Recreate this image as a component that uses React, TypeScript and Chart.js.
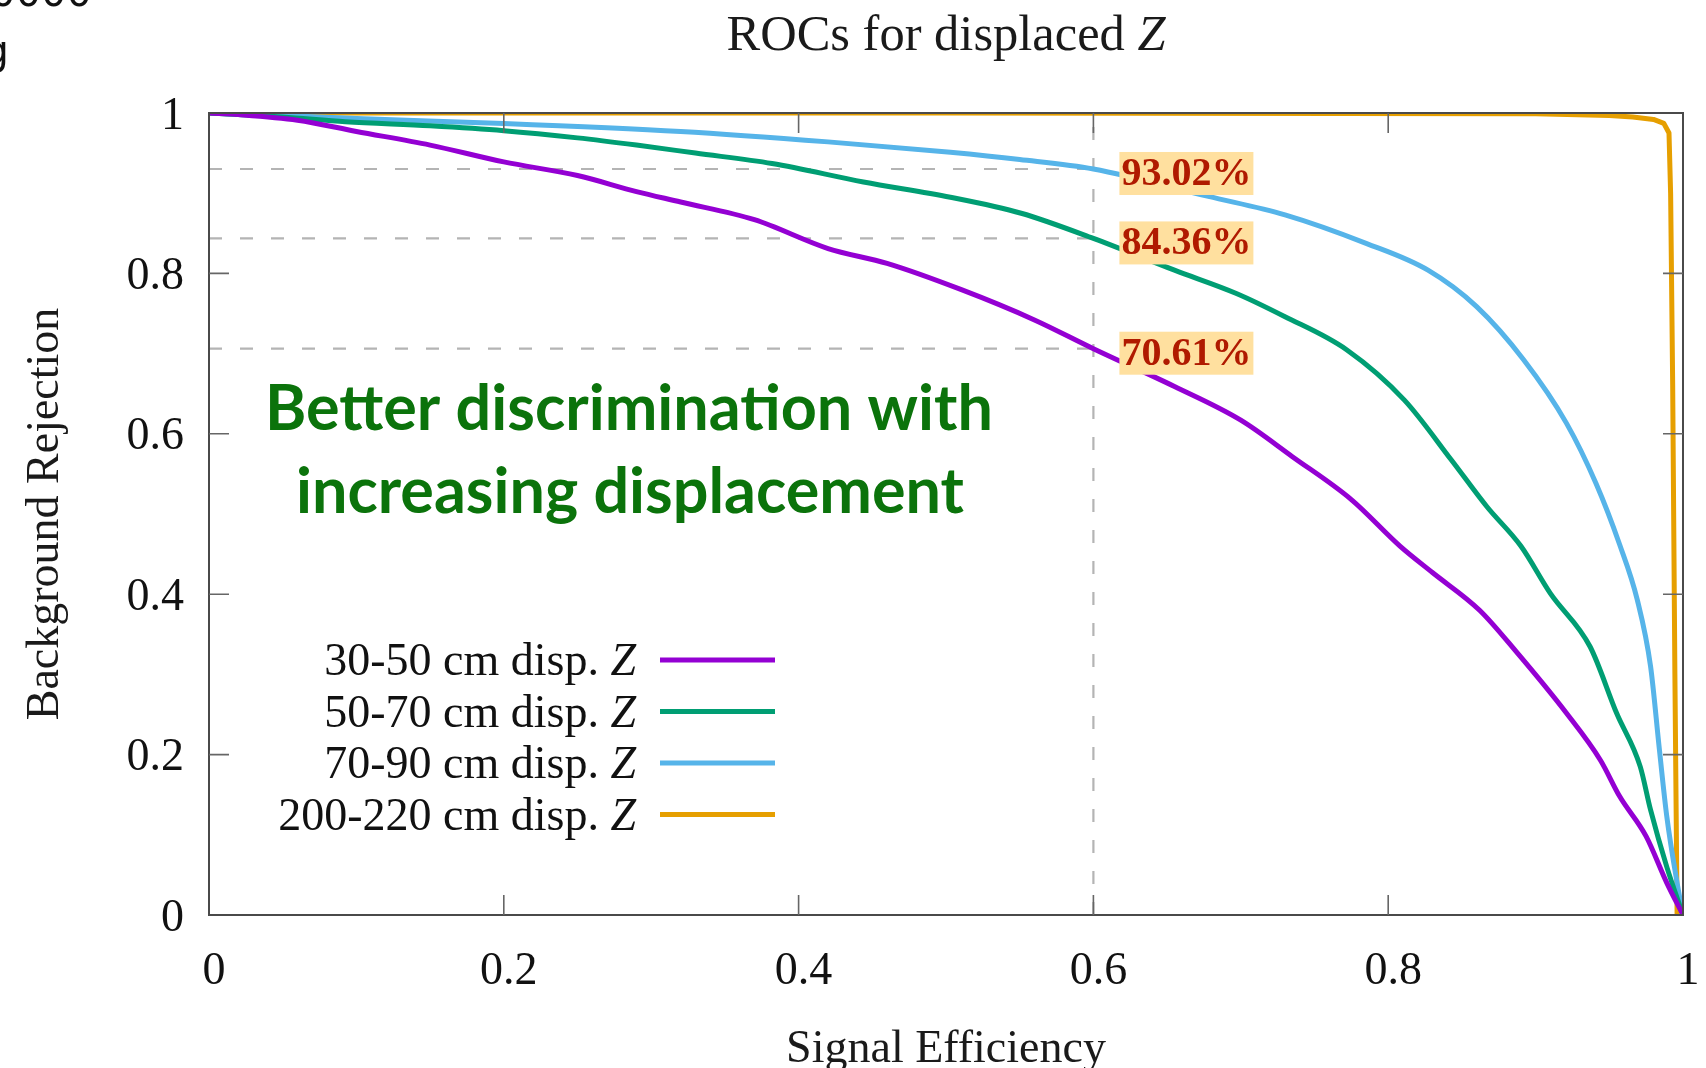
import React, { useEffect, useRef } from 'react';
import { Chart, registerables } from 'chart.js';

Chart.register(...registerables);

// ---------------- data ----------------
const seriesLabels = ['30-50 cm disp. ', '50-70 cm disp. ', '70-90 cm disp. ', '200-220 cm disp. '];
const seriesLabelItalic = 'Z';
const seriesColors = ['#9400d3', '#009e73', '#56b4e9', '#e69f00'];

const purpleX = [0, 0.02, 0.06, 0.10, 0.15, 0.20, 0.25, 0.29, 0.32, 0.37, 0.42, 0.46, 0.51, 0.56, 0.60, 0.655, 0.70, 0.735, 0.775, 0.808, 0.83, 0.862, 0.887, 0.921, 0.944, 0.957, 0.975, 0.989, 1.0];
const purpleY = [1, 0.998, 0.991, 0.977, 0.960, 0.939, 0.922, 0.902, 0.889, 0.867, 0.831, 0.8125, 0.78, 0.742, 0.7061, 0.659, 0.617, 0.5715, 0.518, 0.46, 0.427, 0.38, 0.328, 0.2515, 0.193, 0.148, 0.098, 0.04, 0];

const greenX = [0, 0.05, 0.0925, 0.15, 0.20, 0.25, 0.29, 0.33, 0.382, 0.444, 0.503, 0.551, 0.60, 0.655, 0.697, 0.73, 0.772, 0.811, 0.843, 0.867, 0.89, 0.91, 0.937, 0.955, 0.971, 0.978, 0.989, 1.0];
const greenY = [1, 0.995, 0.989, 0.984, 0.978, 0.969, 0.960, 0.950, 0.937, 0.914, 0.895, 0.875, 0.8436, 0.804, 0.775, 0.746, 0.7045, 0.642, 0.567, 0.509, 0.46, 0.401, 0.3345, 0.2515, 0.185, 0.131, 0.06, 0];

const blueX = [0, 0.05, 0.10, 0.20, 0.32, 0.42, 0.503, 0.55, 0.60, 0.678, 0.73, 0.785, 0.827, 0.86, 0.892, 0.921, 0.941, 0.957, 0.969, 0.978, 0.984, 0.989, 0.996, 1.0];
const blueY = [1, 0.997, 0.993, 0.987, 0.977, 0.964, 0.951, 0.942, 0.9302, 0.896, 0.873, 0.8375, 0.804, 0.7585, 0.692, 0.613, 0.538, 0.462, 0.393, 0.31, 0.206, 0.123, 0.04, 0];

const orangeX = [0, 0.5, 0.9, 0.95, 0.966, 0.98, 0.987, 0.9905, 0.9916, 0.993, 0.9945, 0.996];
const orangeY = [1, 1, 0.999, 0.997, 0.995, 0.992, 0.987, 0.975, 0.90, 0.66, 0.30, 0];

const seriesX = [purpleX, greenX, blueX, orangeX];
const seriesY = [purpleY, greenY, blueY, orangeY];

const xTickValues = [0, 0.2, 0.4, 0.6, 0.8, 1];
const xTickLabels = ['0', '0.2', '0.4', '0.6', '0.8', '1'];
const yTickValues = [0, 0.2, 0.4, 0.6, 0.8, 1];
const yTickLabels = ['0', '0.2', '0.4', '0.6', '0.8', '1'];

const workingPointX = 0.6;
const workingPointValues = [0.7061, 0.8436, 0.9302];
const workingPointLabels = ['70.61%', '84.36%', '93.02%'];

const titleMain = 'ROCs for displaced ';
const titleItalic = 'Z';
const xTitle = 'Signal Efficiency';
const yTitle = 'Background Rejection';
const noteLines = ['Better discrimination with', 'increasing displacement'];

const SERIF = '"Liberation Serif", "Times New Roman", serif';

export default function App() {
  const ref = useRef<HTMLCanvasElement>(null);

  useEffect(() => {
    const canvas = ref.current!;

    const decor = {
      id: 'decor',
      beforeDatasetsDraw(chart: any) {
        const { ctx, chartArea: a, scales } = chart;
        const xs = scales.x, ys = scales.y;
        ctx.save();
        ctx.strokeStyle = '#b4b4b4';
        ctx.lineWidth = 2.2;
        ctx.setLineDash([13, 18]);
        const vx = xs.getPixelForValue(workingPointX);
        ctx.beginPath();
        ctx.moveTo(vx, a.bottom);
        ctx.lineTo(vx, a.top);
        ctx.stroke();
        workingPointValues.forEach((v) => {
          const py = ys.getPixelForValue(v);
          ctx.beginPath();
          ctx.moveTo(a.left, py);
          ctx.lineTo(vx, py);
          ctx.stroke();
        });
        ctx.restore();
      },
      afterDatasetsDraw(chart: any) {
        const { ctx, chartArea: a, scales } = chart;
        const xs = scales.x, ys = scales.y;
        ctx.save();

        // frame
        ctx.strokeStyle = '#4a4a4a';
        ctx.lineWidth = 2;
        ctx.strokeRect(a.left, a.top, a.right - a.left, a.bottom - a.top);

        // inward ticks (mirrored)
        ctx.strokeStyle = '#666';
        ctx.lineWidth = 1.6;
        const tl = 20;
        xTickValues.forEach((v) => {
          if (v <= 0 || v >= 1) return;
          const px = xs.getPixelForValue(v);
          ctx.beginPath();
          ctx.moveTo(px, a.bottom); ctx.lineTo(px, a.bottom - tl);
          ctx.moveTo(px, a.top); ctx.lineTo(px, a.top + tl);
          ctx.stroke();
        });
        yTickValues.forEach((v) => {
          if (v <= 0 || v >= 1) return;
          const py = ys.getPixelForValue(v);
          ctx.beginPath();
          ctx.moveTo(a.left, py); ctx.lineTo(a.left + tl, py);
          ctx.moveTo(a.right, py); ctx.lineTo(a.right - tl, py);
          ctx.stroke();
        });

        // working point labels
        const vx = xs.getPixelForValue(workingPointX);
        ctx.font = `bold 40px ${SERIF}`;
        ctx.textAlign = 'left';
        ctx.textBaseline = 'alphabetic';
        workingPointValues.forEach((v, i) => {
          const py = ys.getPixelForValue(v);
          const txt = workingPointLabels[i];
          const w = ctx.measureText(txt).width;
          const bx = vx + 26;
          ctx.fillStyle = '#ffe09f';
          ctx.fillRect(bx, py - 17, w + 4, 43);
          ctx.fillStyle = '#b01a00';
          ctx.fillText(txt, bx + 2, py + 16);
        });

        // legend
        const legendRight = 636;
        const lineX0 = 660, lineX1 = 775;
        const row0 = 660, rowStep = 51.5;
        chart.data.datasets.forEach((ds: any, i: number) => {
          const ry = row0 + i * rowStep;
          ctx.font = `italic 46px ${SERIF}`;
          const zw = ctx.measureText(seriesLabelItalic).width;
          ctx.fillStyle = '#111';
          ctx.textAlign = 'right';
          ctx.fillText(seriesLabelItalic, legendRight, ry + 15);
          ctx.font = `46px ${SERIF}`;
          ctx.fillText(seriesLabels[i], legendRight - zw, ry + 15);
          ctx.strokeStyle = ds.borderColor;
          ctx.lineWidth = 5;
          ctx.setLineDash([]);
          ctx.beginPath();
          ctx.moveTo(lineX0, ry);
          ctx.lineTo(lineX1, ry);
          ctx.stroke();
        });

        // green note
        ctx.fillStyle = '#0b730b';
        ctx.textAlign = 'center';
        ctx.font = `bold 52px Lato, "Open Sans", sans-serif`;
        const m = ctx.measureText(noteLines[0]).width;
        const fs = 52 * 728 / m;
        ctx.font = `bold ${fs}px Lato, "Open Sans", sans-serif`;
        ctx.fillText(noteLines[0], 629, 430);
        ctx.fillText(noteLines[1], 630, 513);

        // title
        const cx = (a.left + a.right) / 2;
        ctx.fillStyle = '#1a1a1a';
        const tf = 50.5;
        ctx.font = `${tf}px ${SERIF}`;
        const w1 = ctx.measureText(titleMain).width;
        ctx.font = `italic ${tf}px ${SERIF}`;
        const w2 = ctx.measureText(titleItalic).width;
        const sx = cx - (w1 + w2) / 2;
        ctx.textAlign = 'left';
        ctx.font = `${tf}px ${SERIF}`;
        ctx.fillText(titleMain, sx, 50);
        ctx.font = `italic ${tf}px ${SERIF}`;
        ctx.fillText(titleItalic, sx + w1, 50);

        // axis titles
        ctx.font = `46px ${SERIF}`;
        ctx.textAlign = 'center';
        ctx.fillText(xTitle, cx, 1062);
        ctx.save();
        ctx.translate(58, (a.top + a.bottom) / 2);
        ctx.rotate(-Math.PI / 2);
        ctx.textBaseline = 'alphabetic';
        ctx.fillText(yTitle, 0, 0);
        ctx.restore();

        // cropped fragments at the top-left corner
        ctx.fillStyle = '#111';
        ctx.font = `40px "DejaVu Sans", sans-serif`;
        ctx.textAlign = 'right';
        ctx.fillText('0000', 92, 6);
        ctx.fillText('g', 9, 64);

        ctx.restore();
      },
    };

    const datasets = seriesLabels.map((label, i) => ({
      label: label + seriesLabelItalic,
      data: seriesX[i].map((x, j) => ({ x, y: seriesY[i][j] })),
      borderColor: seriesColors[i],
      backgroundColor: seriesColors[i],
      borderWidth: 5,
      pointRadius: 0,
      fill: false,
      tension: 0,
      cubicInterpolationMode: i < 3 ? 'monotone' : 'default',
      borderJoinStyle: 'round',
    }));

    const chart = new Chart(canvas, {
      type: 'line',
      data: { datasets } as any,
      options: {
        animation: false,
        responsive: false,
        devicePixelRatio: 1,
        layout: { padding: { left: 0, top: 113, right: 23, bottom: 0 } },
        plugins: {
          legend: { display: false },
          title: { display: false },
          tooltip: { enabled: false },
        },
        scales: {
          x: {
            type: 'linear',
            min: 0,
            max: 1,
            grid: { display: false, drawTicks: false },
            border: { display: false },
            afterBuildTicks: (s: any) => { s.ticks = xTickValues.map((v) => ({ value: v })); },
            afterFit: (s: any) => { s.height = 153; s.paddingLeft = 0; s.paddingRight = 0; },
            ticks: {
              callback: (_v: any, i: number) => xTickLabels[i],
              font: { family: SERIF, size: 46 },
              color: '#111',
              padding: 29,
              labelOffset: 5,
              maxRotation: 0,
              autoSkip: false,
            },
          },
          y: {
            type: 'linear',
            min: 0,
            max: 1,
            grid: { display: false, drawTicks: false },
            border: { display: false },
            afterBuildTicks: (s: any) => { s.ticks = yTickValues.map((v) => ({ value: v })); },
            afterFit: (s: any) => { s.width = 209; s.paddingTop = 0; s.paddingBottom = 0; },
            ticks: {
              callback: (_v: any, i: number) => yTickLabels[i],
              font: { family: SERIF, size: 46 },
              color: '#111',
              padding: 25,
              labelOffset: 3.5,
              autoSkip: false,
            },
          },
        },
      } as any,
      plugins: [decor],
    });

    return () => chart.destroy();
  }, []);

  return (
    <div style={{ position: 'fixed', left: 0, top: 0, width: 1706, height: 1068, background: '#fff' }}>
      <canvas ref={ref} width={1706} height={1068} style={{ display: 'block', width: 1706, height: 1068 }} />
    </div>
  );
}
